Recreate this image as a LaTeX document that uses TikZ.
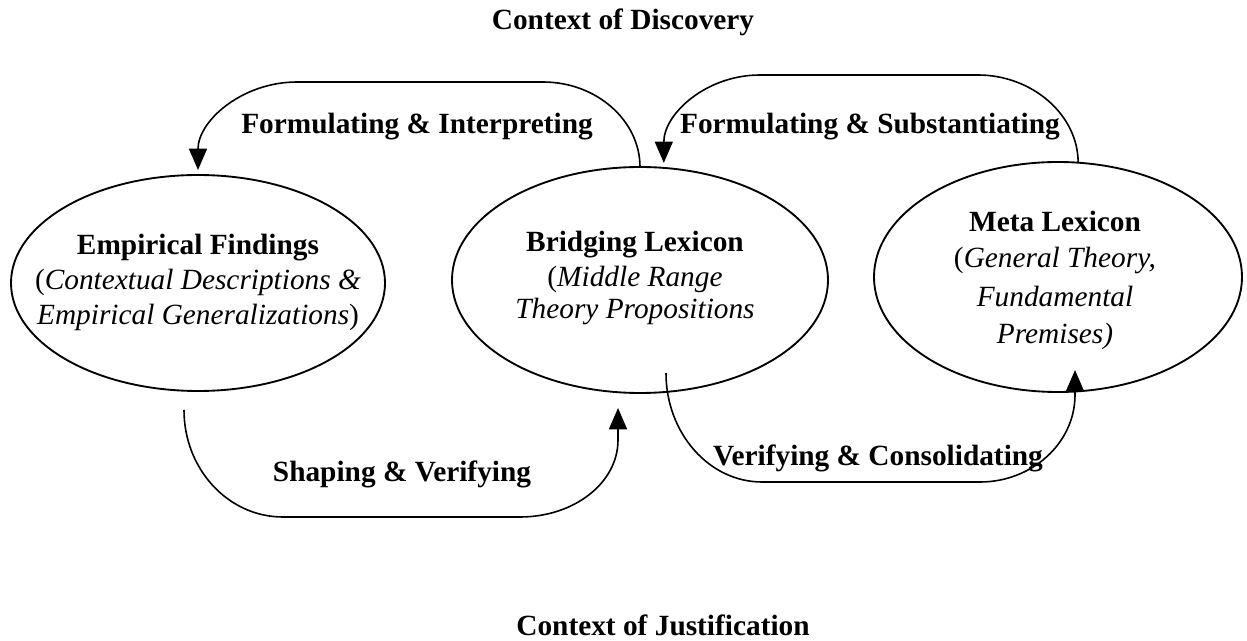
\documentclass[tikz,border=0pt]{standalone}
\usepackage{fontspec}
\setmainfont{Liberation Serif}
\usetikzlibrary{arrows.meta,calc,shapes.geometric}
\begin{document}
\begin{tikzpicture}[x=0.75pt,y=-0.75pt,
  ell/.style={draw,ellipse,line width=1.4pt,inner sep=0pt,outer sep=0pt},
  bl/.style={font=\fontsize{22}{26}\selectfont\bfseries,anchor=base,inner sep=0pt},
  il/.style={font=\fontsize{22}{26}\selectfont\itshape,anchor=base,inner sep=0pt},
  arr/.style={line width=1.2pt,-{Triangle[length=16pt,width=13.5pt]}}]
\useasboundingbox (0,0) rectangle (1247,641);
% ellipses
\node[ell,minimum width=374*0.75pt,minimum height=216*0.75pt] (e1) at (198,283) {};
\node[ell,minimum width=376*0.75pt,minimum height=226*0.75pt] (e2) at (640,280) {};
\node[ell,minimum width=368*0.75pt,minimum height=230*0.75pt] (e3) at (1058,277) {};
% ellipse texts
\node[bl] (t1a) at (198,255) {Empirical Findings};
\node[il] (t1b) at (198,290) {\upshape(\itshape Contextual Descriptions \&};
\node[il] (t1c) at (198,325) {Empirical Generalizations\upshape)};
\node[bl] (t2a) at (635,252) {Bridging Lexicon};
\node[il] (t2b) at (635,287) {\upshape(\itshape Middle Range};
\node[il] (t2c) at (635,319) {Theory Propositions};
\node[bl] (t3a) at (1055,232) {Meta Lexicon};
\node[il] (t3b) at (1055,268) {\upshape(\itshape General Theory,};
\node[il] (t3c) at (1055,307) {Fundamental};
\node[il] (t3d) at (1055,344) {Premises)};
% titles
\node[bl] (top) at (623,30) {Context of Discovery};
\node[bl] (bot) at (663,636) {Context of Justification};
% connectors
\draw[arr] (e2.north) .. controls +(0,-46) and +(54,0) .. (543,82)
  -- (297,82) .. controls +(-55,0) and +(0,-49) .. ($(e1.north)+(0,-5)$);
\draw[arr] (e3.80) .. controls +(0,-48) and +(54,0) .. (978,75)
  -- (760,75) .. controls +(-54,0) and +(0,-49) .. ($(e2.78)+(0,-5)$);
\draw[arr] ($(e1.south)+(-14,19)$) .. controls +(0,59) and +(-55,0) .. (283,517)
  -- (520,517) .. controls +(54,0) and +(0,43) .. (618,440) -- ($(e2.south)+(-22,15)$);
\draw[arr] ($(e2.south)+(26,-20)$) .. controls +(0,60) and +(-53,0) .. (762,482)
  -- (980,482) .. controls +(52,0) and +(0,48) .. (1075,395) -- ($(e3.south)+(17,-22)$);
% labels
\node[bl] (lA) at (417,134) {Formulating \& Interpreting};
\node[bl] (lB) at (870,134) {Formulating \& Substantiating};
\node[bl] (lC) at (402,482) {Shaping \& Verifying};
\node[bl] (lD) at (878,466) {Verifying \& Consolidating};
\end{tikzpicture}
\end{document}
